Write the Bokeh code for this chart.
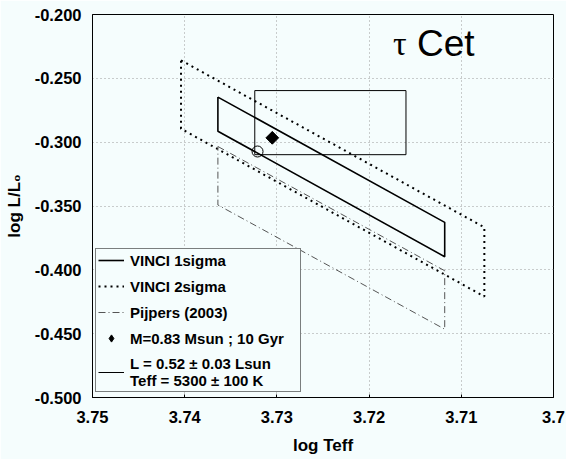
import math
from bokeh.plotting import figure
from bokeh.models import (FixedTicker, NumeralTickFormatter, Legend, LegendItem, Label, Range1d)
from bokeh.embed import file_html
from bokeh.resources import INLINE

# ---- data ----
x_ticks = [3.75, 3.74, 3.73, 3.72, 3.71, 3.70]
y_ticks = [-0.500, -0.450, -0.400, -0.350, -0.300, -0.250, -0.200]

sig1_x = [3.7364, 3.7118, 3.7118, 3.7364, 3.7364]
sig1_y = [-0.2647, -0.3628, -0.3897, -0.2914, -0.2647]

sig2_x = [3.7404, 3.7075, 3.7075, 3.7404, 3.7404]
sig2_y = [-0.2359, -0.3667, -0.4209, -0.2895, -0.2359]

pij_x = [3.7364, 3.7118, 3.7118, 3.7364, 3.7364]
pij_y = [-0.3034, -0.4007, -0.4465, -0.3492, -0.3034]

box_x = [3.7324, 3.7160, 3.7160, 3.7324, 3.7324]
box_y = [-0.2596, -0.2596, -0.3098, -0.3098, -0.2596]

model_x = [3.7305]
model_y = [-0.2966]

circ_x = [3.7321]
circ_y = [-0.3073]

labels = ["VINCI 1sigma", "VINCI 2sigma", "Pijpers (2003)",
          "M=0.83 Msun ; 10 Gyr", "L = 0.52 \u00b1 0.03 Lsun\nTeff = 5300 \u00b1 100 K"]

BG = "#f5fdfd"
FONT = "Liberation Sans"

p = figure(width=566, height=459, output_backend="svg", toolbar_location=None,
           x_range=Range1d(3.75, 3.70), y_range=Range1d(-0.5, -0.2),
           min_border_left=92, min_border_right=13, min_border_top=14, min_border_bottom=62,
           background_fill_color=BG, border_fill_color=BG)
p.outline_line_color = "black"
p.outline_line_width = 1

# grid
for g in (p.xgrid, p.ygrid):
    g.grid_line_color = "#9a9a9a"
    g.grid_line_dash = "1 3"
    g.grid_line_width = 1
p.xaxis.ticker = FixedTicker(ticks=x_ticks)
p.yaxis.ticker = FixedTicker(ticks=y_ticks)
p.xaxis.formatter = NumeralTickFormatter(format="0.0[0]")
p.yaxis.formatter = NumeralTickFormatter(format="0.000")
p.xaxis.minor_tick_line_color = None
p.yaxis.minor_tick_line_color = None
p.xaxis.major_tick_in = 3
p.xaxis.major_tick_out = 0
p.yaxis.major_tick_in = 0
p.yaxis.major_tick_out = 0
for ax in (p.xaxis, p.yaxis):
    ax.axis_line_color = "black"
    ax.major_label_text_font = FONT
    ax.major_label_text_font_style = "bold"
    ax.major_label_text_font_size = "16.5px"
    ax.major_label_text_color = "black"
    ax.axis_label_text_font = FONT
    ax.axis_label_text_font_style = "bold"
    ax.axis_label_text_font_size = "17px"
    ax.axis_label_text_color = "black"
p.xaxis.axis_label = "log Teff"
p.yaxis.axis_label = "log L/L\u2080"
p.xaxis.major_label_standoff = 13
p.yaxis.major_label_standoff = 11
p.xaxis.axis_label_standoff = 10
p.yaxis.axis_label_standoff = 8

r1 = p.line(sig1_x, sig1_y, line_color="black", line_width=1.6)
r2 = p.line(sig2_x, sig2_y, line_color="black", line_width=2, line_dash="2 4")
r3 = p.line(pij_x, pij_y, line_color="#555555", line_width=1, line_dash="7 3 1 3")
r5 = p.line(box_x, box_y, line_color="black", line_width=1)
# legend marker (diamond) hidden beneath the rotated square drawn on the plot
r4 = p.scatter(model_x, model_y, marker="diamond", size=12,
               fill_color="black", line_color="black")
p.scatter(model_x, model_y, marker="square", size=9, angle=math.pi / 4,
          fill_color="black", line_color="black")
p.scatter(circ_x, circ_y, marker="circle", size=11, fill_color=None, line_color="black", line_width=1)

legend = Legend(items=[LegendItem(label=labels[0], renderers=[r1]),
                       LegendItem(label=labels[1], renderers=[r2]),
                       LegendItem(label=labels[2], renderers=[r3]),
                       LegendItem(label=labels[3], renderers=[r4]),
                       LegendItem(label=labels[4], renderers=[r5])],
                location=(3, 5))
legend.background_fill_color = BG
legend.background_fill_alpha = 1
legend.border_line_color = "black"
legend.border_line_width = 1
legend.label_text_font = FONT
legend.label_text_font_style = "bold"
legend.label_text_font_size = "15px"
legend.label_text_color = "black"
legend.label_text_line_height = 0.65
legend.glyph_width = 26
legend.glyph_height = 18
legend.label_height = 18
legend.label_width = 168
legend.label_standoff = 6
legend.spacing = 8
legend.padding = 2
legend.margin = 0
p.add_layout(legend)

p.add_layout(Label(x=3.7174, y=-0.2225, text="\u03c4", text_font="Liberation Serif",
                   text_font_size="34px", text_color="black", text_baseline="alphabetic"))
p.add_layout(Label(x=3.7148, y=-0.2225, text="Cet", text_font=FONT,
                   text_font_size="37px", text_color="black", text_baseline="alphabetic"))

open("out.html", "w").write(file_html(p, INLINE))
